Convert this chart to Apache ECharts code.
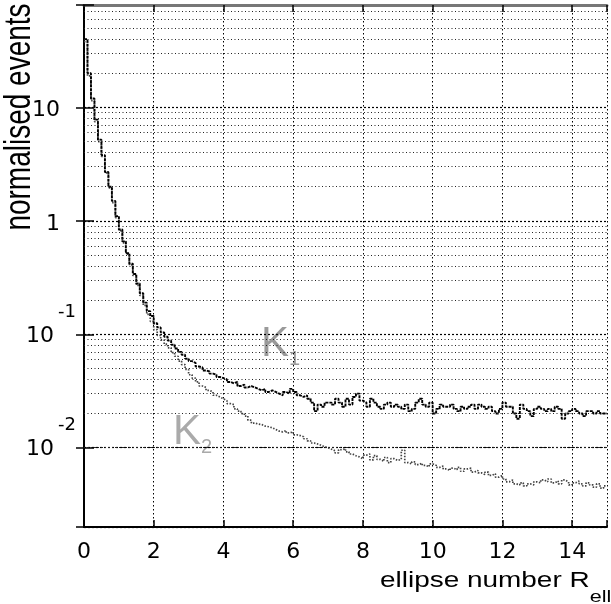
<!DOCTYPE html>
<html><head><meta charset="utf-8">
<script src="https://cdn.jsdelivr.net/npm/echarts@6/dist/echarts.min.js"></script>
<style>html,body{margin:0;padding:0;background:#fff}#c{width:611px;height:604px}</style>
</head><body><div id="c"></div>
<script>
// ---- data ----
const binWidth = 0.1;
const xMin = 0, xMax = 15, xInterval = 2;
const yMin = 0.002, yMax = 80;
const yTickValues = [0.01, 0.1, 1, 10];
const yTickTexts = ['{b|10}{s|-2}', '{b|10}{s|-1}', '{n|1}', '{n|10}'];
const minorMultipliers = [2, 3, 4, 5, 6, 7, 8, 9];
const decadeBases = [0.001, 0.01, 0.1, 1, 10];

const k1Values = [
  40, 20, 12, 7.8, 5.2, 3.8, 2.7, 2.0, 1.5, 1.1,
  0.84, 0.66, 0.52, 0.42, 0.34, 0.28, 0.23, 0.19, 0.16, 0.145,
  0.125, 0.115, 0.104, 0.095, 0.088, 0.081, 0.075, 0.070, 0.066, 0.061,
  0.058, 0.056, 0.052, 0.051, 0.048, 0.047, 0.045, 0.044, 0.042, 0.041,
  0.040, 0.038, 0.037, 0.038, 0.035, 0.036, 0.034, 0.035, 0.034, 0.033,
  0.032, 0.033, 0.031, 0.032, 0.031, 0.030, 0.029, 0.031, 0.030, 0.033,
  0.031, 0.029, 0.028, 0.029, 0.027, 0.025, 0.021, 0.024, 0.023, 0.025,
  0.025, 0.024, 0.027, 0.025, 0.023, 0.027, 0.024, 0.028, 0.030, 0.026,
  0.025, 0.023, 0.027, 0.025, 0.023, 0.022, 0.024, 0.025, 0.023, 0.024,
  0.023, 0.022, 0.024, 0.021, 0.022, 0.025, 0.027, 0.024, 0.023, 0.025,
  0.020, 0.022, 0.024, 0.023, 0.023, 0.024, 0.022, 0.021, 0.023, 0.022,
  0.023, 0.024, 0.022, 0.024, 0.023, 0.022, 0.023, 0.021, 0.020, 0.022,
  0.025, 0.023, 0.023, 0.020, 0.018, 0.024, 0.022, 0.021, 0.019, 0.022,
  0.023, 0.022, 0.021, 0.022, 0.021, 0.023, 0.022, 0.018, 0.020, 0.021,
  0.022, 0.021, 0.020, 0.019, 0.021, 0.021, 0.020, 0.021, 0.020, 0.020
];
const k2Values = [
  38, 19, 11.5, 7.5, 5.0, 3.7, 2.65, 1.95, 1.45, 1.07,
  0.82, 0.64, 0.51, 0.41, 0.33, 0.27, 0.22, 0.18, 0.15, 0.13,
  0.11, 0.098, 0.089, 0.082, 0.076, 0.069, 0.064, 0.058, 0.054, 0.049,
  0.044, 0.041, 0.038, 0.035, 0.034, 0.032, 0.031, 0.029, 0.028, 0.027,
  0.026, 0.0245, 0.024, 0.022, 0.021, 0.020, 0.019, 0.0175, 0.0165, 0.0162,
  0.016, 0.0155, 0.0153, 0.015, 0.0145, 0.014, 0.0138, 0.0142, 0.0135, 0.0138,
  0.013, 0.0128, 0.0125, 0.012, 0.0115, 0.011, 0.0108, 0.0105, 0.0102, 0.010,
  0.0097, 0.0094, 0.009, 0.0096, 0.0098, 0.0092, 0.0088, 0.0085, 0.0083, 0.008,
  0.0086, 0.0088, 0.0078, 0.0085, 0.0079, 0.0076, 0.0082, 0.0074, 0.008, 0.0077,
  0.0079, 0.0095, 0.0074, 0.0072, 0.0075, 0.0071, 0.0073, 0.007, 0.0068, 0.0072,
  0.007, 0.0067, 0.0069, 0.0065, 0.0063, 0.0066, 0.0064, 0.0067, 0.0062, 0.0065,
  0.0066, 0.0061, 0.0063, 0.006, 0.0058, 0.0061, 0.0057, 0.0059, 0.0055, 0.0057,
  0.0053, 0.005, 0.0052, 0.0048, 0.0047, 0.0049, 0.0046, 0.0048, 0.0047, 0.005,
  0.0049, 0.0052, 0.005, 0.0053, 0.0049, 0.0051, 0.0048, 0.0052, 0.005, 0.0047,
  0.0049, 0.0051, 0.0048, 0.0046, 0.0049, 0.0047, 0.0045, 0.0048, 0.0044, 0.0046
];

// ---- helpers ----
const toSteps = vals => vals.map((v, i) => [+(i * binWidth).toFixed(2), v])
  .concat([[xMax, vals[vals.length - 1]]]);
const minorLines = [];
decadeBases.forEach(b => minorMultipliers.forEach(m => {
  const v = +(b * m).toPrecision(3);
  if (v > yMin && v < yMax) minorLines.push({ yAxis: v });
}));
const yLabel = v => {
  for (let i = 0; i < yTickValues.length; i++) {
    if (Math.abs(Math.log10(v) - Math.log10(yTickValues[i])) < 1e-6) return yTickTexts[i];
  }
  return '';
};
const LF = 'DejaVu Sans';

const chart = echarts.init(document.getElementById('c'));
chart.setOption({
  animation: false,
  backgroundColor: '#fff',
  grid: { left: 84, right: 4, top: 5, bottom: 77 },
  xAxis: [{
    type: 'value', min: xMin, max: xMax, interval: xInterval, position: 'bottom',
    axisLine: { show: true, onZero: false, lineStyle: { color: '#000', width: 2 } },
    axisTick: { show: true, inside: true, length: 7, lineStyle: { color: '#000', width: 1.5 } },
    axisLabel: { fontSize: 22, fontFamily: LF, color: '#000', margin: 14,
      formatter: v => (v % xInterval === 0 ? String(v) : '') },
    splitLine: { show: true, lineStyle: { color: '#000', width: 1, type: [1.5, 2.5] } }
  }, {
    type: 'value', min: xMin, max: xMax, interval: xInterval, position: 'top',
    axisLine: { show: true, onZero: false, lineStyle: { color: '#777', width: 3 } },
    axisTick: { show: true, inside: true, length: 7, lineStyle: { color: '#000', width: 1.5 } },
    axisLabel: { show: false }, splitLine: { show: false }
  }],
  yAxis: [{
    type: 'log', logBase: 10, min: yMin, max: yMax,
    axisLine: { show: true, lineStyle: { color: '#000', width: 2 } },
    axisTick: { show: true, inside: true, length: 10, lineStyle: { color: '#000', width: 1.5 } },
    axisLabel: {
      margin: 8, color: '#000', formatter: yLabel,
      rich: {
        n: { fontSize: 22, fontFamily: LF, color: '#000', padding: [6, 16, 0, 0], verticalAlign: 'middle' },
        b: { fontSize: 22, fontFamily: LF, color: '#000', padding: [4, 0, 0, 0], verticalAlign: 'middle' },
        s: { fontSize: 18, fontFamily: LF, color: '#000', padding: [0, 0, 44, 4], verticalAlign: 'middle' }
      }
    },
    splitLine: { show: true, lineStyle: { color: '#000', width: 1.2, type: [2, 2] } }
  }, {
    type: 'log', logBase: 10, min: yMin, max: yMax, position: 'right',
    axisLine: { show: true, lineStyle: { color: '#000', width: 2 } },
    axisTick: { show: true, inside: true, length: 8, lineStyle: { color: '#000', width: 1.5 } },
    axisLabel: { show: false }, splitLine: { show: false }
  }],
  series: [{
    name: 'K2', type: 'line', step: 'end', symbol: 'none', xAxisIndex: 0, yAxisIndex: 0,
    data: toSteps(k2Values),
    lineStyle: { color: '#444', width: 1.7, type: [1.5, 1.5] },
    markLine: {
      silent: true, symbol: ['none', 'none'], label: { show: false },
      lineStyle: { color: '#222', width: 1, type: [1, 2.5] },
      data: minorLines
    },
    z: 3
  }, {
    name: 'K1', type: 'line', step: 'end', symbol: 'none', xAxisIndex: 0, yAxisIndex: 0,
    data: toSteps(k1Values),
    lineStyle: { color: '#000', width: 1.9, type: [3, 1] },
    z: 4
  }],
  graphic: [{
    type: 'text', x: 20, y: 117, rotation: Math.PI / 2, scaleY: 1.3,
    style: { text: 'normalised events', fill: '#000', font: '28px "Liberation Sans", Arial, sans-serif',
      textAlign: 'center', textVerticalAlign: 'middle', align: 'center', verticalAlign: 'middle' }
  }, {
    type: 'text', x: 380, y: 581, scaleX: 1.27,
    style: {
      text: '{m|ellipse number R}{s|ell}', fill: '#000',
      textAlign: 'left', textVerticalAlign: 'middle', align: 'left', verticalAlign: 'middle',
      rich: {
        m: { fontSize: 22, fontFamily: 'Liberation Sans', fill: '#000', color: '#000', verticalAlign: 'middle' },
        s: { fontSize: 17, fontFamily: 'Liberation Sans', fill: '#000', color: '#000', padding: [32, 0, 0, 0], verticalAlign: 'middle' }
      }
    }
  }, {
    type: 'text', x: 261, y: 344,
    style: {
      text: '{k|K}{s|1}', fill: '#999',
      textAlign: 'left', textVerticalAlign: 'middle', align: 'left', verticalAlign: 'middle',
      rich: {
        k: { fontSize: 42, fontFamily: 'Liberation Sans', fill: '#9a9a9a', color: '#9a9a9a', verticalAlign: 'middle' },
        s: { fontSize: 20, fontFamily: 'Liberation Sans', fill: '#9a9a9a', color: '#9a9a9a', padding: [30, 0, 0, 0], verticalAlign: 'middle' }
      }
    }
  }, {
    type: 'text', x: 173, y: 432,
    style: {
      text: '{k|K}{s|2}', fill: '#999',
      textAlign: 'left', textVerticalAlign: 'middle', align: 'left', verticalAlign: 'middle',
      rich: {
        k: { fontSize: 42, fontFamily: 'Liberation Sans', fill: '#aaa', color: '#aaa', verticalAlign: 'middle' },
        s: { fontSize: 20, fontFamily: 'Liberation Sans', fill: '#aaa', color: '#aaa', padding: [30, 0, 0, 0], verticalAlign: 'middle' }
      }
    }
  }]
});
</script>
</body></html>
